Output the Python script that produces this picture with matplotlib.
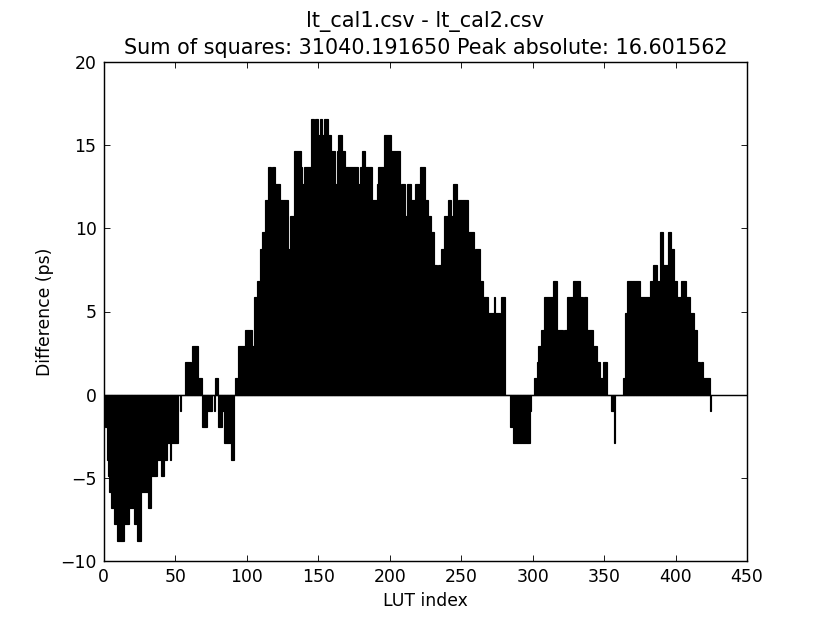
#!/usr/bin/env python3
# Difference between two LUT calibration files, one bar per LUT entry.

from matplotlib import pyplot as plt

title_files = "lt_cal1.csv - lt_cal2.csv"
sum_of_squares = 31040.191650
peak_absolute = 16.601562

# Difference (ps) per LUT index (steps of ~0.977 ps)
diff_ps = [
    # 0-19
    -0.98, -1.95, -3.91, -4.88, -5.86, -6.84, -6.84, -7.81, -7.81, -8.79,
    -8.79, -8.79, -8.79, -8.79, -7.81, -7.81, -7.81, -7.81, -6.84, -6.84,
    # 20-39
    -6.84, -7.81, -7.81, -8.79, -8.79, -8.79, -5.86, -5.86, -5.86, -5.86,
    -5.86, -6.84, -6.84, -4.88, -4.88, -4.88, -4.88, -3.91, -3.91, -3.91,
    # 40-59
    -4.88, -4.88, -3.91, -3.91, -2.93, -2.93, -3.91, -2.93, -2.93, -2.93,
    -2.93, -2.93, 0.0, -0.98, 0.0, 0.0, 0.0, 1.95, 1.95, 1.95,
    # 60-79
    1.95, 0.98, 2.93, 2.93, 2.93, 2.93, 0.98, 0.98, 0.98, -1.95,
    -1.95, -1.95, -0.98, -0.98, -0.98, -0.98, 0.0, -0.98, 0.98, 0.98,
    # 80-99
    -1.95, -1.95, -1.95, -0.98, -2.93, -2.93, -2.93, -2.93, -2.93, -3.91,
    -3.91, 0.0, 0.98, 0.98, 2.93, 2.93, 2.93, 2.93, 2.93, 3.91,
    # 100-119
    3.91, 3.91, 3.91, 3.91, 2.93, 5.86, 5.86, 6.84, 6.84, 8.79,
    8.79, 9.77, 9.77, 11.72, 11.72, 13.67, 13.67, 12.70, 13.67, 13.67,
    # 120-139
    12.70, 12.70, 12.70, 11.72, 11.72, 11.72, 11.72, 11.72, 11.72, 8.79,
    10.74, 10.74, 10.74, 14.65, 14.65, 14.65, 14.65, 14.65, 13.67, 12.70,
    # 140-159
    13.67, 13.67, 13.67, 13.67, 13.67, 16.60, 16.60, 15.63, 16.60, 16.60,
    15.63, 16.60, 16.60, 15.63, 16.60, 16.60, 16.60, 15.63, 15.63, 14.65,
    # 160-179
    14.65, 14.65, 12.70, 14.65, 15.63, 15.63, 15.63, 14.65, 14.65, 13.67,
    13.67, 13.67, 13.67, 13.67, 13.67, 13.67, 13.67, 13.67, 12.70, 13.67,
    # 180-199
    13.67, 14.65, 14.65, 13.67, 13.67, 13.67, 13.67, 13.67, 11.72, 11.72,
    11.72, 12.70, 13.67, 13.67, 13.67, 13.67, 15.63, 15.63, 15.63, 15.63,
    # 200-219
    15.63, 14.65, 14.65, 14.65, 14.65, 14.65, 14.65, 11.72, 12.70, 12.70,
    12.70, 10.74, 12.70, 12.70, 12.70, 11.72, 11.72, 11.72, 12.70, 12.70,
    # 220-239
    12.70, 13.67, 13.67, 13.67, 13.67, 11.72, 11.72, 10.74, 10.74, 9.77,
    9.77, 7.81, 7.81, 5.86, 7.81, 7.81, 8.79, 8.79, 10.74, 10.74,
    # 240-259
    10.74, 11.72, 11.72, 10.74, 12.70, 12.70, 12.70, 7.81, 11.72, 11.72,
    11.72, 11.72, 11.72, 11.72, 11.72, 9.77, 9.77, 9.77, 9.77, 7.81,
    # 260-279
    8.79, 8.79, 8.79, 6.84, 6.84, 5.86, 5.86, 5.86, 5.86, 4.88,
    4.88, 4.88, 4.88, 5.86, 4.88, 4.88, 4.88, 3.91, 5.86, 5.86,
    # 280-299
    5.86, 0.0, 0.0, 0.0, -1.95, -1.95, -2.93, -2.93, -2.93, -2.93,
    -2.93, -2.93, -2.93, -2.93, -2.93, -2.93, -2.93, -2.93, -0.98, 0.0,
    # 300-319
    0.0, 0.98, 0.98, 1.95, 2.93, 2.93, 3.91, 3.91, 5.86, 5.86,
    5.86, 5.86, 5.86, 5.86, 6.84, 6.84, 6.84, 3.91, 3.91, 3.91,
    # 320-339
    3.91, 1.95, 3.91, 3.91, 5.86, 5.86, 5.86, 5.86, 6.84, 6.84,
    6.84, 6.84, 6.84, 5.86, 5.86, 4.88, 5.86, 5.86, 3.91, 3.91,
    # 340-359
    3.91, 3.91, 2.93, 2.93, 2.93, 1.95, 1.95, 0.98, 0.98, 1.95,
    1.95, 1.95, 0.0, 0.0, 0.0, -0.98, -0.98, -2.93, 0.0, 0.0,
    # 360-379
    0.0, 0.0, 0.0, 0.98, 0.98, 4.88, 6.84, 6.84, 6.84, 6.84,
    6.84, 6.84, 6.84, 6.84, 6.84, 5.86, 5.86, 5.86, 5.86, 5.86,
    # 380-399
    5.86, 5.86, 6.84, 6.84, 7.81, 7.81, 7.81, 6.84, 6.84, 9.77,
    9.77, 7.81, 7.81, 7.81, 7.81, 9.77, 9.77, 8.79, 8.79, 6.84,
    # 400-419
    6.84, 5.86, 5.86, 5.86, 6.84, 6.84, 6.84, 5.86, 5.86, 5.86,
    4.88, 4.88, 4.88, 3.91, 3.91, 1.95, 1.95, 0.98, 1.95, 0.98,
    # 420-424
    0.98, 0.98, 0.98, 0.98, -0.98,
]
lut_index = list(range(len(diff_ps)))

x_ticks = [0, 50, 100, 150, 200, 250, 300, 350, 400, 450]
y_ticks = [-10, -5, 0, 5, 10, 15, 20]

fig = plt.figure(figsize=(8.0, 623 / 103.75), dpi=103.75)
ax = fig.add_axes([0.125, 0.1, 0.775, 0.8])

ax.bar(lut_index, diff_ps, width=1.0, align="edge",
       color="k", edgecolor="k", linewidth=0.8)
ax.axhline(0, color="k", linewidth=1.0)

ax.set_xlim(0, 450)
ax.set_ylim(-10, 20)
ax.set_xticks(x_ticks)
ax.set_yticks(y_ticks)
ax.tick_params(direction="in", top=True, right=True, length=4, width=0.6,
               labelsize=12, pad=5)
for side in ax.spines.values():
    side.set_linewidth(1.0)

ax.set_xlabel("LUT index", fontsize=12)
ax.set_ylabel("Difference (ps)", fontsize=12)
ax.set_title(f"{title_files}\nSum of squares: {sum_of_squares:f} "
             f"Peak absolute: {peak_absolute:f}",
             fontsize=14.4, linespacing=1.35, pad=6)

fig.savefig("out.png", dpi=103.75)
